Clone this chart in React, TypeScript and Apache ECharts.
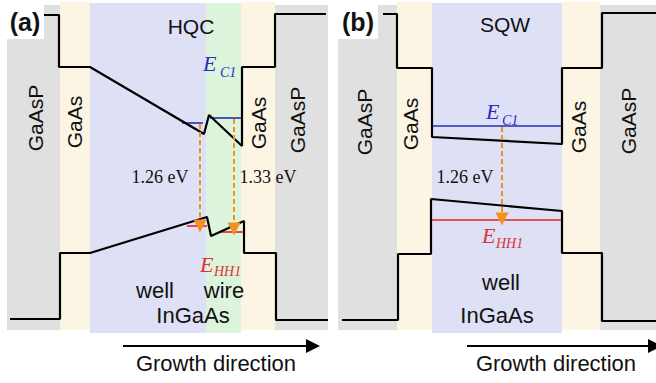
import React, { useEffect, useRef } from 'react';
import * as echarts from 'echarts';

// ---- layer structure (growth position of boundaries) ----
const layerEdgesA = [7, 60, 90, 206, 241, 275, 328];
const layerKindsA = ['GaAsP', 'GaAs', 'well', 'wire', 'GaAs', 'GaAsP'];
const layerEdgesB = [338, 397, 432, 562, 600, 656];
const layerKindsB = ['GaAsP', 'GaAs', 'well', 'GaAs', 'GaAsP'];
const kindTop: Record<string, number> = { GaAsP: 5, GaAs: 2, well: 3, wire: 3 };
const kindBottom: Record<string, number> = { GaAsP: 330, GaAs: 330, well: 333, wire: 333 };
const kindColor: Record<string, string> = { GaAsP: '#e0e0e0', GaAs: '#fdf5e4', well: '#dee0f5', wire: '#dcf4dc' };

// ---- band edges (position, energy level on the schematic scale) ----
const conductionA = [[43, 15], [59, 15], [59, 67], [90, 67], [204, 134], [209, 115], [242, 146], [242, 67], [275, 67], [275, 14], [326, 14]];
const valenceA = [[10, 319], [60, 319], [60, 253], [90, 253], [207, 217], [211, 236], [244, 221], [244, 253], [276, 253], [276, 320], [328, 320]];
const conductionB = [[383, 14], [397, 14], [397, 68], [432, 68], [432, 137], [562, 144], [562, 68], [602, 68], [602, 13], [656, 13]];
const valenceB = [[342, 320], [398, 320], [398, 254], [431, 254], [431, 199], [562, 211], [562, 253], [602, 253], [602, 321], [656, 321]];

// ---- confined levels ----
const ec1Levels = [[[182, 123], [203, 123]], [[210, 118], [242, 118]], [[432, 126], [562, 126]]];
const ehh1Levels = [[[187, 226], [207, 226]], [[220, 232], [245, 232]], [[431, 220], [562, 220]]];
// ---- transitions ----
const transitions = [[[200, 124], [200, 226]], [[234, 119], [234, 229]], [[502, 127], [502, 219]]];
const growthArrows = [[[123, 346], [313, 346]], [[467, 346], [655, 346]]];

function buildLayers(edges: number[], kinds: string[]) {
  return kinds.map((k, i) => [edges[i], edges[i + 1], kindTop[k], kindBottom[k], k]);
}

const SANS = '"Liberation Sans", Arial, sans-serif';
const SERIF = '"Liberation Serif", "Times New Roman", serif';

function txt(text: string, x: number, y: number, opts: any = {}) {
  return {
    type: 'text',
    x,
    y,
    z: 20,
    rotation: opts.rotation || 0,
    style: {
      text,
      fontFamily: opts.family || SANS,
      fontSize: opts.size || 21,
      fontWeight: opts.weight || 'normal',
      fontStyle: opts.style || 'normal',
      fill: opts.color || '#111',
      align: opts.align || 'center',
      verticalAlign: 'middle',
    },
  };
}

export default function App() {
  const ref = useRef<HTMLDivElement>(null);
  useEffect(() => {
    if (!ref.current) return;
    const chart = echarts.init(ref.current, undefined, { renderer: 'svg' });
    const layers = [...buildLayers(layerEdgesA, layerKindsA), ...buildLayers(layerEdgesB, layerKindsB)];
    const bandLine = (data: number[][]) => ({
      type: 'line',
      data,
      symbol: 'none',
      silent: true,
      z: 5,
      lineStyle: { color: '#000', width: 2.2 },
    });
    const levelLines = (levels: number[][][], color: string) =>
      levels.map((l) => ({
        type: 'line',
        data: l,
        symbol: 'none',
        silent: true,
        z: 4,
        lineStyle: { color, width: 1.6 },
      }));
    const rotSize = 21;
    chart.setOption({
      animation: false,
      grid: { left: 0, right: 0, top: 0, bottom: 0 },
      xAxis: { type: 'value', min: 0, max: 656, show: false },
      yAxis: { type: 'value', min: 0, max: 383, inverse: true, show: false },
      series: [
        {
          type: 'custom',
          silent: true,
          z: 1,
          data: layers,
          renderItem: (params: any, api: any) => {
            const p0 = api.coord([api.value(0), api.value(2)]);
            const p1 = api.coord([api.value(1), api.value(3)]);
            const kind = layers[params.dataIndex][4] as string;
            return {
              type: 'rect',
              shape: { x: p0[0], y: p0[1], width: p1[0] - p0[0], height: p1[1] - p0[1] },
              style: { fill: kindColor[kind] },
            };
          },
        },
        ...levelLines(ec1Levels, '#2233b0'),
        ...levelLines(ehh1Levels, '#e02424'),
        bandLine(conductionA),
        bandLine(valenceA),
        bandLine(conductionB),
        bandLine(valenceB),
        {
          type: 'lines',
          coordinateSystem: 'cartesian2d',
          silent: true,
          z: 6,
          symbol: ['none', 'triangle'],
          symbolSize: [10, 13],
          lineStyle: { color: '#f39020', width: 2, type: [5, 3], opacity: 1 },
          data: transitions.map((c) => ({ coords: c })),
        },
        {
          type: 'lines',
          coordinateSystem: 'cartesian2d',
          silent: true,
          z: 6,
          symbol: ['none', 'triangle'],
          symbolSize: [8, 14],
          lineStyle: { color: '#000', width: 1.8, opacity: 1 },
          data: growthArrows.map((c) => ({ coords: c })),
        },
      ],
      graphic: [
        { type: 'rect', z: 15, shape: { x: 7, y: 2, width: 37, height: 37 }, style: { fill: '#fff' } },
        { type: 'rect', z: 15, shape: { x: 338, y: 2, width: 40, height: 37 }, style: { fill: '#fff' } },
        txt('(a)', 25, 22, { size: 25, weight: 'bold' }),
        txt('(b)', 358, 22, { size: 25, weight: 'bold' }),
        txt('HQC', 191, 26, { size: 21 }),
        txt('SQW', 505, 24, { size: 21 }),
        txt('GaAsP', 35, 118, { size: rotSize, rotation: Math.PI / 2 }),
        txt('GaAs', 74, 122, { size: rotSize, rotation: Math.PI / 2 }),
        txt('GaAs', 258, 123, { size: rotSize, rotation: Math.PI / 2 }),
        txt('GaAsP', 297, 120, { size: rotSize, rotation: Math.PI / 2 }),
        txt('GaAsP', 364, 122, { size: rotSize, rotation: Math.PI / 2 }),
        txt('GaAs', 410, 124, { size: rotSize, rotation: Math.PI / 2 }),
        txt('GaAs', 578, 127, { size: rotSize, rotation: Math.PI / 2 }),
        txt('GaAsP', 628, 121, { size: rotSize, rotation: Math.PI / 2 }),
        txt('1.26 eV', 160, 177, { size: 18, family: SERIF }),
        txt('1.33 eV', 268, 177, { size: 18, family: SERIF }),
        txt('1.26 eV', 465, 177, { size: 18, family: SERIF }),
        txt('E', 203, 63, { size: 22, family: SERIF, style: 'italic', color: '#2a2ac4', align: 'left' }),
        txt('C1', 220, 72, { size: 14, family: SERIF, style: 'italic', color: '#2a2ac4', align: 'left' }),
        txt('E', 486, 111, { size: 22, family: SERIF, style: 'italic', color: '#2a2ac4', align: 'left' }),
        txt('C1', 502, 120, { size: 14, family: SERIF, style: 'italic', color: '#2a2ac4', align: 'left' }),
        txt('E', 200, 264, { size: 22, family: SERIF, style: 'italic', color: '#e03030', align: 'left' }),
        txt('HH1', 214, 271, { size: 14, family: SERIF, style: 'italic', color: '#e03030', align: 'left' }),
        txt('E', 482, 235, { size: 22, family: SERIF, style: 'italic', color: '#e03030', align: 'left' }),
        txt('HH1', 496, 243, { size: 14, family: SERIF, style: 'italic', color: '#e03030', align: 'left' }),
        txt('well', 155, 290, { size: 22 }),
        txt('wire', 224, 290, { size: 22 }),
        txt('InGaAs', 193, 315, { size: 22 }),
        txt('well', 501, 282, { size: 22 }),
        txt('InGaAs', 497, 315, { size: 22 }),
        txt('Growth direction', 216, 363, { size: 22 }),
        txt('Growth direction', 556, 363, { size: 22 }),
      ],
    });
    return () => chart.dispose();
  }, []);
  return <div ref={ref} style={{ position: 'absolute', left: 0, top: 0, width: 656, height: 383 }} />;
}
